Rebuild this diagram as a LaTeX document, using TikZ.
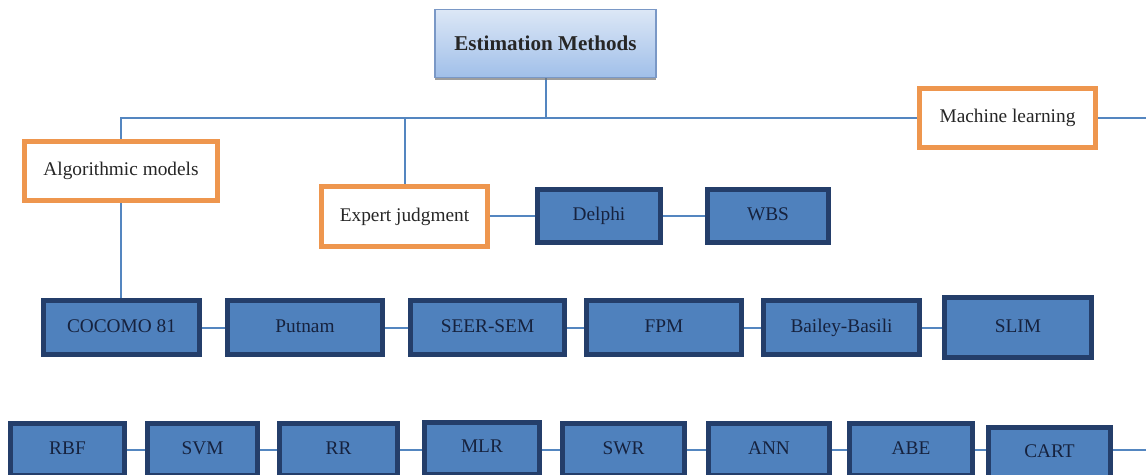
\documentclass[tikz,border=0pt]{standalone}
\usepackage{fontspec}
\setmainfont{Liberation Serif}
\usetikzlibrary{positioning, shadows}

\definecolor{boxblue}{RGB}{79,129,189}
\definecolor{boxnavy}{RGB}{36,62,106}
\definecolor{txtnavy}{RGB}{22,34,62}
\definecolor{grporange}{RGB}{238,150,78}
\definecolor{linkblue}{RGB}{84,134,192}
\definecolor{roottop}{RGB}{220,231,246}
\definecolor{rootbot}{RGB}{160,191,233}
\definecolor{rootedge}{RGB}{122,152,198}

\pgfdeclarelayer{background}
\pgfsetlayers{background,main}

\tikzset{
    method/.style={draw=boxnavy, fill=boxblue, line width=0.1cm, text=txtnavy,
        font=\fontsize{11}{13}\selectfont, inner sep=0pt, minimum height=1.08cm,
        text height=1.6ex, text depth=0.45ex},
    group/.style={draw=grporange, fill=white, line width=0.1cm, text=black!85,
        font=\fontsize{11}{13}\selectfont, inner sep=0pt, minimum height=1.18cm,
        text height=1.6ex, text depth=0.45ex},
    root/.style={draw=rootedge, line width=0.03cm, top color=roottop, bottom color=rootbot,
        font=\bfseries\fontsize{12}{14}\selectfont, text=black!85, inner sep=0pt,
        drop shadow={shadow xshift=0cm, shadow yshift=-0.05cm, fill=black!55, opacity=0.7}},
    link/.style={draw=linkblue, line width=0.04cm}
}

\begin{document}
\begin{tikzpicture}[x=0.02cm, y=-0.02cm]
    \useasboundingbox (0,0) rectangle (1146,474);
    \clip (0,0) rectangle (1146,474);

    % top level
    \node[root, minimum width=4.43cm, minimum height=1.36cm] (est) at (545.5,43.5) {Estimation Methods};
    \node[group, minimum width=3.88cm] (alg) at (121,171) {Algorithmic models};
    \node[group, minimum width=3.52cm] (ml) at (1007.5,118) {Machine learning};
    \node[group, minimum width=3.32cm, minimum height=1.2cm] (exp) at (404.5,216.5) {Expert judgment};
    \node[method, minimum width=2.46cm, minimum height=1.06cm] (delphi) at (599,216) {Delphi};
    \node[method, minimum width=2.42cm, minimum height=1.06cm] (wbs) at (768,216) {WBS};
    \coordinate (mlend) at (1146,118);

    % algorithmic models
    \node[method, minimum width=3.12cm] (coc) at (121.5,327.5) {COCOMO 81};
    \node[method, minimum width=3.10cm] (put) at (305,327.5) {Putnam};
    \node[method, minimum width=3.08cm] (seer) at (487.5,327.5) {SEER-SEM};
    \node[method, minimum width=3.10cm] (fpm) at (664,327.5) {FPM};
    \node[method, minimum width=3.12cm] (bb) at (841.5,327.5) {Bailey-Basili};
    \node[method, minimum width=2.94cm, minimum height=1.2cm] (slim) at (1018,327.5) {SLIM};

    % machine learning
    \node[method, minimum width=2.28cm, minimum height=1.04cm] (rbf) at (67.5,449.5) {RBF};
    \node[method, minimum width=2.20cm, minimum height=1.04cm] (svm) at (202.5,449.5) {SVM};
    \node[method, minimum width=2.36cm, minimum height=1.04cm] (rr) at (338.5,449.5) {RR};
    \node[method, minimum width=2.30cm, minimum height=1.04cm] (mlr) at (482,448) {MLR};
    \node[method, minimum width=2.44cm, minimum height=1.04cm] (swr) at (623.5,449.5) {SWR};
    \node[method, minimum width=2.42cm, minimum height=1.04cm] (ann) at (769,449.5) {ANN};
    \node[method, minimum width=2.46cm, minimum height=1.04cm] (abe) at (911,449.5) {ABE};
    \node[method, minimum width=2.44cm, minimum height=1.04cm] (cart) at (1049.5,453) {CART};
    \coordinate (cartend) at (1146,450);

    % connectors
    \begin{pgfonlayer}{background}
        \draw[link] (est.center) -- (est.center |- ml.center);
        \draw[link] (alg.center) |- (ml.center);
        \draw[link] (exp.center) -- (exp.center |- ml.center);
        \draw[link] (ml.center) -- (mlend);
        \draw[link] (alg.center) -- (alg.center |- coc.center);
        \draw[link] (delphi.center -| exp.center) -- (delphi.center);
        \draw[link] (delphi.center) -- (wbs.center);
        \foreach \a/\b in {coc/put, put/seer, seer/fpm, fpm/bb, bb/slim}
            \draw[link] (\a.center) -- (\a.center -| \b.center);
        \foreach \a/\b in {rbf/svm, svm/rr, rr/mlr, mlr/swr, swr/ann, ann/abe, abe/cart}
            \draw[link] (\a.center |- rbf.center) -- (\b.center |- rbf.center);
        \draw[link] (cart.center |- cartend) -- (cartend);
    \end{pgfonlayer}
\end{tikzpicture}
\end{document}
